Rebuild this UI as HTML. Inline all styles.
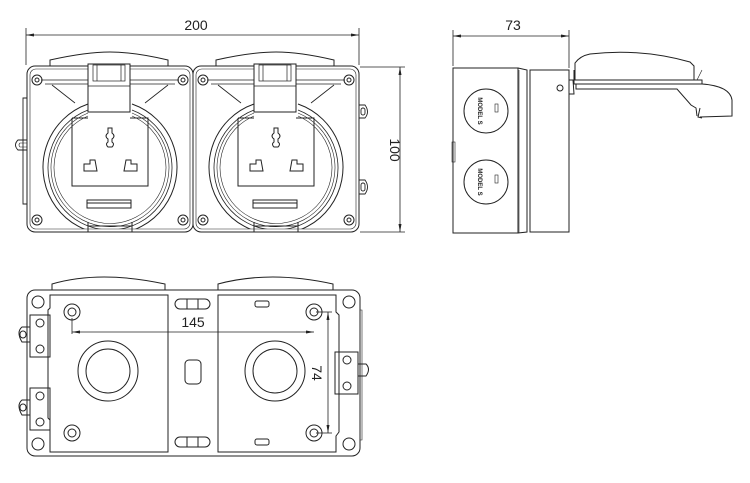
<!DOCTYPE html>
<html><head><meta charset="utf-8"><style>
html,body{margin:0;padding:0;background:#fff;}
svg{display:block;}
text{font-family:"Liberation Sans",sans-serif;fill:#222;}
</style></head><body>
<svg width="750" height="483" viewBox="0 0 750 483" xmlns="http://www.w3.org/2000/svg">
<defs>
<marker id="ar" markerWidth="8" markerHeight="6" refX="8" refY="3" orient="auto-start-reverse" markerUnits="userSpaceOnUse"><path d="M0,1.5 L8,3 L0,4.5z" fill="#222"/></marker>
<clipPath id="bx"><rect x="0" y="0" width="166" height="163"/></clipPath>
<g id="sock" fill="none" stroke="#222" stroke-width="1">
  <rect x="0" y="0" width="166" height="166" rx="8"/>
  <rect x="3" y="3" width="160" height="160" rx="6" stroke-width="0.6"/>
  <path d="M23,0 L23,-6 Q59,-14 83,-14 Q107,-14 141,-6 L141,0" />
  <path d="M14,14 L152,14 M18,18 L148,18 M141,19 L118,37 M25,19 L48,37" stroke-width="0.8"/>
  <g clip-path="url(#bx)">
    <path d="M61,38 A67,67 0 1 0 105,38"/>
    <path d="M61,44 A62,62 0 1 0 105,44" stroke-width="0.8"/>
    <path d="M61,47 A59,59 0 1 0 105,47" stroke-width="0.6"/>
    <path d="M61,50 A56,56 0 1 0 105,50" stroke-width="0.6"/>
  </g>
  <path d="M61,160 L105,160 M61,156 L61,166 M105,156 L105,166"/>
  <rect x="61" y="-2" width="42" height="48" fill="#fff"/>
  <rect x="66" y="-1" width="32" height="16" stroke-width="0.7"/>
  <path d="M61,20 L103,20 M70,-1 L70,15 M94,-1 L94,15" stroke-width="0.7"/>
  <circle cx="10" cy="14" r="5"/><circle cx="10" cy="14" r="2"/>
  <circle cx="156" cy="14" r="5"/><circle cx="156" cy="14" r="2"/>
  <circle cx="10" cy="154" r="5"/><circle cx="10" cy="154" r="2"/>
  <circle cx="156" cy="154" r="5"/><circle cx="156" cy="154" r="2"/>
  <path d="M45,52 L45,120 L121,120 L121,52 L103,52 M61,52 L45,52"/>
  <path d="M81,62 L85,62 L85,67 Q89,70 85,73 L85,76 Q88,78 85,81 L81,81 Q78,78 81,76 L81,73 Q77,70 81,67 Z"/>
  <path d="M57,98 L63,98 L63,94 L68,94 L70,105 L57,105 Z M99,94 L104,94 L104,98 L110,98 L110,105 L97,105 Z"/>
  <rect x="60" y="134" width="44" height="8"/>
  <path d="M60,137 L104,137"/>
</g>
<g id="circ" fill="none" stroke="#222" stroke-width="1">
  <circle r="22"/><rect x="9" y="-7" width="3" height="8" stroke-width="0.6"/>
</g>
</defs>

<!-- Front view -->
<g stroke="#222" fill="none" stroke-width="0.8">
  <line x1="26" y1="28" x2="26" y2="65"/>
  <line x1="359" y1="28" x2="359" y2="65"/>
  <line x1="26" y1="35" x2="359" y2="35" marker-start="url(#ar)" marker-end="url(#ar)"/>
  <line x1="360" y1="67" x2="405" y2="67"/>
  <line x1="360" y1="232" x2="405" y2="232"/>
  <line x1="400" y1="67" x2="400" y2="232" marker-start="url(#ar)" marker-end="url(#ar)"/>
</g>
<text x="196" y="30" font-size="14" text-anchor="middle">200</text>
<text transform="translate(390,150) rotate(90)" font-size="14" text-anchor="middle">100</text>
<use href="#sock" x="27" y="66"/>
<use href="#sock" x="193" y="66"/>
<g fill="none" stroke="#222" stroke-width="0.9">
  <path d="M27,98 L23,98 L23,204 L27,204"/>
  <path d="M27,140 L18,140 Q13,145 18,150 L27,150"/>
  <path d="M27,143 L20,143 Q18,145 20,147 L27,147" stroke-width="0.6"/>
  <path d="M359,105 L365,105 Q370,112 365,118 L359,118 M359,180 L365,180 Q370,187 365,194 L359,194"/>
  <rect x="361" y="108" width="4" height="7" rx="2"/>
  <rect x="361" y="183" width="4" height="8" rx="2"/>
</g>

<!-- Side view -->
<g stroke="#222" fill="none" stroke-width="0.8">
  <line x1="453" y1="30" x2="453" y2="66"/>
  <line x1="569" y1="30" x2="569" y2="68"/>
  <line x1="453" y1="36" x2="569" y2="36" marker-start="url(#ar)" marker-end="url(#ar)"/>
</g>
<text x="513" y="30" font-size="14" text-anchor="middle">73</text>
<g fill="none" stroke="#222" stroke-width="1">
  <rect x="453" y="68" width="65" height="165"/>
  <path d="M518,68 L527,70 L527,232 L518,233"/>
  <rect x="530" y="70" width="39" height="162"/>
  <line x1="519" y1="70" x2="519" y2="233" stroke-width="0.6"/>
  <rect x="452" y="142" width="3" height="20" stroke-width="0.6"/>
  <circle cx="560" cy="88" r="3"/>
  <path d="M569,80 L574,80 L574,70 M573,80 L574,94 L569,94"/>
  <path d="M575,80 L575,63 Q580,56 590,54 Q640,48 690,62 L694,66 L694,80"/>
  <path d="M574,80 L702,80 L702,84 L574,84 Z"/>
  <path d="M576,84 L576,89 L677,89 L691,105 L696,108 L697,116 M700,108 L698,117 L702,118"/>
  <path d="M702,84 Q730,86 732,100 L732,116 L700,117"/>
  <path d="M697,80 L702,70" stroke-width="0.6"/>
</g>
<use href="#circ" x="486" y="111"/>
<use href="#circ" x="486" y="182"/>
<text transform="translate(478,111) rotate(90)" font-size="6" font-weight="bold" text-anchor="middle">MODEL S</text>
<text transform="translate(478,182) rotate(90)" font-size="6" font-weight="bold" text-anchor="middle">MODEL S</text>

<!-- Bottom view -->
<g fill="none" stroke="#222" stroke-width="1">
  <rect x="27" y="290" width="333" height="166" rx="8"/>
  <path d="M52,290 L52,284 Q100,270 165,284 L165,290"/>
  <path d="M218,290 L218,284 Q270,270 333,284 L333,290"/>
  <path d="M50,295 L168,295 L168,452 L50,452 L50,420 L48,418 L48,310 L50,308 Z"/>
  <path d="M218,295 L336,295 L336,312 L339,315 L339,432 L336,436 L336,452 L218,452 Z"/>
  <circle cx="38" cy="302" r="6"/><circle cx="349" cy="302" r="6"/>
  <circle cx="38" cy="444" r="6"/><circle cx="349" cy="444" r="6"/>
  <circle cx="72" cy="312" r="8"/><circle cx="72" cy="312" r="4"/>
  <circle cx="72" cy="433" r="8"/><circle cx="72" cy="433" r="4"/>
  <circle cx="314" cy="312" r="8"/><circle cx="314" cy="312" r="4"/>
  <circle cx="314" cy="433" r="8"/><circle cx="314" cy="433" r="4"/>
  <circle cx="108" cy="371" r="30"/><circle cx="108" cy="371" r="22"/>
  <circle cx="275" cy="371" r="30"/><circle cx="275" cy="371" r="22"/>
  <rect x="175" y="299" width="35" height="10" rx="5"/>
  <path d="M187,299 L187,309 M198,299 L198,309"/>
  <rect x="175" y="437" width="35" height="10" rx="5"/>
  <path d="M187,437 L187,447 M198,437 L198,447"/>
  <rect x="185" y="360" width="16" height="24" rx="4"/>
  <rect x="255" y="301" width="14" height="6" rx="2"/>
  <rect x="255" y="439" width="14" height="6" rx="2"/>
  <rect x="30" y="315" width="20" height="42"/>
  <path d="M30,327 L22,327 Q16,332 22,342 L30,342"/>
  <rect x="20" y="331" width="6" height="7" rx="3"/>
  <circle cx="40" cy="323" r="4"/><circle cx="40" cy="349" r="4"/>
  <rect x="30" y="388" width="20" height="42"/>
  <path d="M30,400 L22,400 Q16,405 22,415 L30,415"/>
  <rect x="20" y="404" width="6" height="7" rx="3"/>
  <circle cx="40" cy="396" r="4"/><circle cx="40" cy="422" r="4"/>
  <rect x="335" y="352" width="23" height="42"/>
  <path d="M358,364 L366,364 Q371,369 366,376 L358,376"/>
  <circle cx="347" cy="360" r="4"/><circle cx="347" cy="386" r="4"/>
  <path d="M360,310 L362,310 L362,440 L360,440" stroke-width="0.6"/>
</g>
<g stroke="#222" fill="none" stroke-width="0.8">
  <line x1="72" y1="318" x2="72" y2="334"/>
  <line x1="72" y1="332" x2="314" y2="332" marker-start="url(#ar)" marker-end="url(#ar)"/>
  <line x1="316" y1="312" x2="332" y2="312"/>
  <line x1="316" y1="433" x2="332" y2="433"/>
  <line x1="328" y1="312" x2="328" y2="433" marker-start="url(#ar)" marker-end="url(#ar)"/>
</g>
<text x="193" y="327" font-size="14" text-anchor="middle">145</text>
<text transform="translate(312,373) rotate(90)" font-size="14" text-anchor="middle">74</text>
</svg>
</body></html>
